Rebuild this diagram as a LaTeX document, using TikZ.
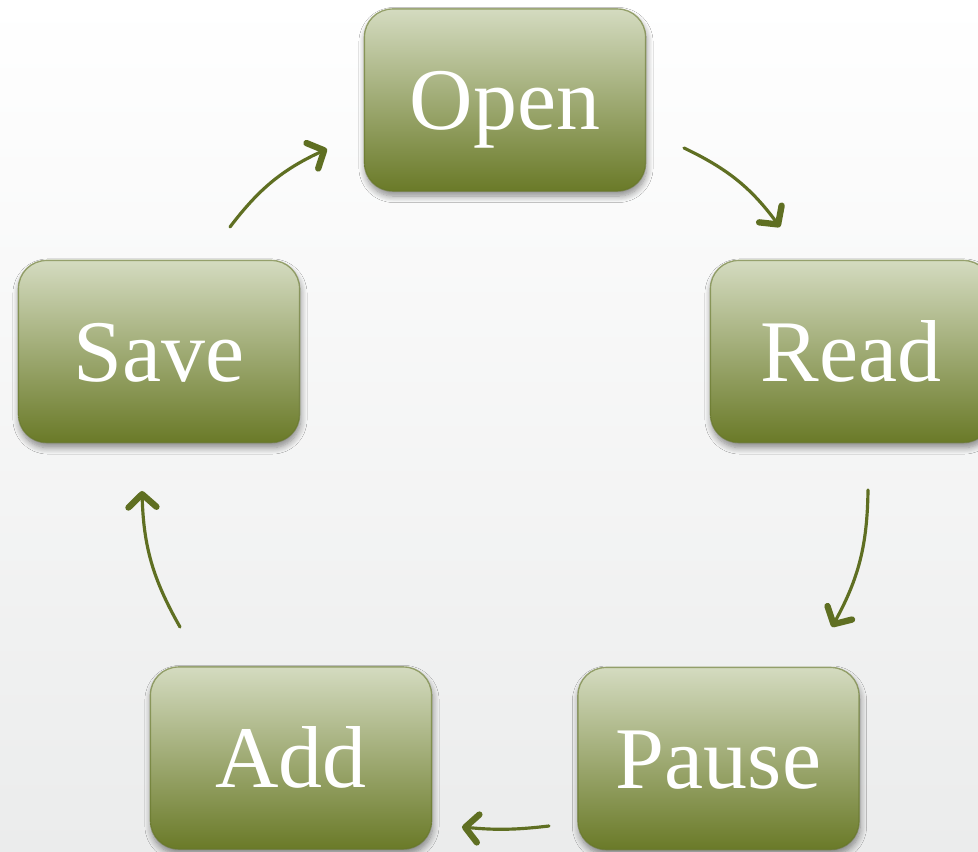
\documentclass[tikz,border=0pt]{standalone}
\usepackage{fontspec}
\setmainfont{Liberation Serif}
\usetikzlibrary{arrows.meta,shadows.blur}
\definecolor{boxtop}{HTML}{D4DBC0}
\definecolor{boxmid}{HTML}{A0AA75}
\definecolor{boxbot}{HTML}{6A7A28}
\definecolor{boxedge}{HTML}{66762A}
\definecolor{arrowc}{HTML}{5F6F22}
\definecolor{bgbot}{HTML}{EBECEC}
\definecolor{bgmid}{HTML}{F8F8F8}
\tikzset{
  stepbox/.style={rounded corners=0.28cm, minimum width=2.81cm, minimum height=1.82cm,
    inner sep=0pt, top color=boxtop, middle color=boxmid, bottom color=boxbot,
    draw=boxedge, draw opacity=0.6, line width=0.4pt,
    text=white, font=\fontsize{25}{30}\selectfont, text height=17pt, text depth=0pt,
    blur shadow={shadow xshift=0.01cm, shadow yshift=-0.05cm, shadow blur steps=8, shadow opacity=45}},
  cyclearrow/.style={draw=arrowc, line width=0.9pt, line cap=round,
    -{Straight Barb[length=0.13cm, width=0.28cm, line width=1.8pt, line cap=round, line join=round]},
    bend left=14}
}
\begin{document}
\begin{tikzpicture}[x=0.01cm, y=-0.01cm]
\useasboundingbox (0,0) rectangle (978,852);
\shade[top color=white, middle color=bgmid, bottom color=bgbot] (0,0) rectangle (978,852);
\node[stepbox] (open)  at (505,100)   {Open};
\node[stepbox] (read)  at (851,351.5) {Read};
\node[stepbox] (pause) at (718.5,758.5) {Pause};
\node[stepbox] (add)   at (291,758)   {Add};
\node[stepbox] (save)  at (159,351.5) {Save};
\coordinate (s1) at (230,227); \coordinate (e1) at (327,149);
\coordinate (s2) at (684,148); \coordinate (e2) at (780,227);
\coordinate (s3) at (868,490); \coordinate (e3) at (832,627);
\coordinate (s4) at (549,826); \coordinate (e4) at (462,827);
\coordinate (s5) at (180,627); \coordinate (e5) at (142,491);
\draw[cyclearrow] (s1) to (e1);
\draw[cyclearrow] (s2) to (e2);
\draw[cyclearrow] (s3) to (e3);
\draw[cyclearrow, bend left=6] (s4) to (e4);
\draw[cyclearrow] (s5) to (e5);
\end{tikzpicture}
\end{document}
